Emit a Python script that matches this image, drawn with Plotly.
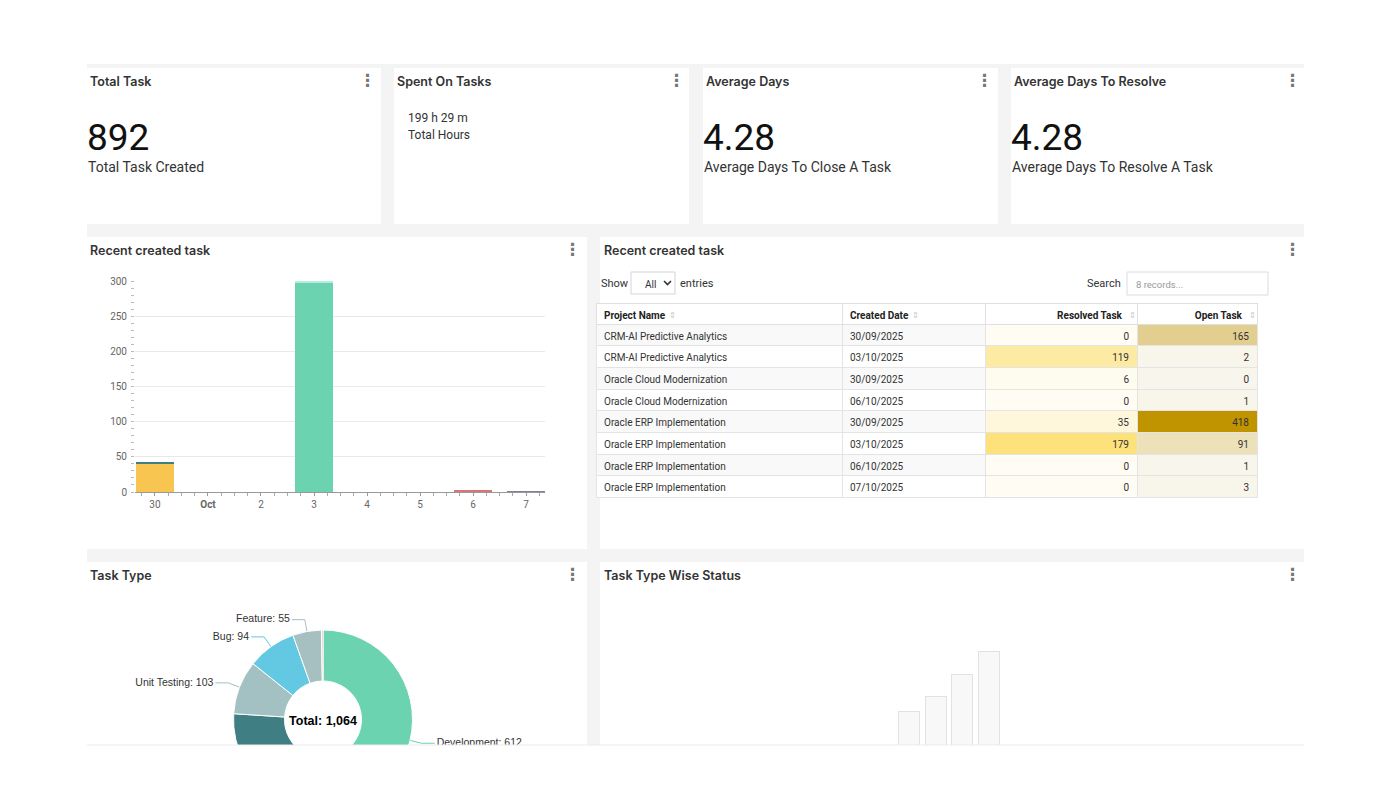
import math
import plotly.graph_objects as go

W, H = 1391, 809


def px(x):
    return x / W


def py(y):
    return 1 - y / H


# ---------------- data ----------------
kpi_titles = ["Total Task", "Spent On Tasks", "Average Days", "Average Days To Resolve"]
kpi_values = ["892", "199 h 29 m", "4.28", "4.28"]
kpi_captions = ["Total Task Created", "Total Hours", "Average Days To Close A Task",
                "Average Days To Resolve A Task"]

day_pos = [0, 1, 2, 3, 4, 5, 6, 7]
day_labels = ["30", "<b>Oct</b>", "2", "3", "4", "5", "6", "7"]
s_yellow = [40, 0, 0, 0, 0, 0, 0, 0]
s_olive = [1, 0, 0, 0, 0, 0, 0, 0]
s_darkteal = [2, 0, 0, 0, 0, 0, 0, 0]
s_green = [0, 0, 0, 298, 0, 0, 0, 0]
s_lightteal = [0, 0, 0, 2, 0, 0, 0, 0]
s_red = [0, 0, 0, 0, 0, 0, 2, 0]
s_grey = [0, 0, 0, 0, 0, 0, 0, 1]

table_projects = ["CRM-AI Predictive Analytics", "CRM-AI Predictive Analytics",
                  "Oracle Cloud Modernization", "Oracle Cloud Modernization",
                  "Oracle ERP Implementation", "Oracle ERP Implementation",
                  "Oracle ERP Implementation", "Oracle ERP Implementation"]
table_dates = ["30/09/2025", "03/10/2025", "30/09/2025", "06/10/2025",
               "30/09/2025", "03/10/2025", "06/10/2025", "07/10/2025"]
table_resolved = [0, 119, 6, 0, 35, 179, 0, 0]
table_open = [165, 2, 0, 1, 418, 91, 1, 3]
table_headers = ["Project Name", "Created Date", "Resolved Task", "Open Task"]

type_labels = ["Development", "Task", "Unit Testing", "Bug", "Feature", "Other"]
type_values = [612, 197, 103, 94, 55, 3]
type_colors = ["#6cd3b1", "#3f7f83", "#a3c1c2", "#63c8e1", "#a6bfc1", "#f3a6a6"]

skeleton_x = [0, 1, 2, 3]
skeleton_h = [79, 94, 116, 139]

# ---------------- figure ----------------
fig = go.Figure()

FONT = "Roboto"
TFONT = "Inter"
shapes = []
ann = []

# background and cards
shapes.append(dict(type="rect", xref="paper", yref="paper", x0=px(87), x1=px(1304),
                   y0=py(745), y1=py(64), fillcolor="#f4f4f4", line_width=0, layer="below"))
cards = [(87, 68, 381, 224), (394, 68, 689, 224), (703, 68, 998, 224), (1011, 68, 1304, 224),
         (87, 237, 587, 549), (600, 237, 1304, 549),
         (87, 562, 587, 760), (600, 562, 1304, 760)]
for (x0, y0, x1, y1) in cards:
    shapes.append(dict(type="rect", xref="paper", yref="paper", x0=px(x0), x1=px(x1),
                       y0=py(y1), y1=py(y0), fillcolor="white", line_width=0, layer="below"))


def text(x, y, s, size=12, color="#333", family=FONT, xanchor="left", weight=None):
    f = dict(size=size, color=color, family=family)
    if weight:
        f["weight"] = weight
    ann.append(dict(x=px(x), y=py(y), xref="paper", yref="paper", text=s, showarrow=False,
                    xanchor=xanchor, yanchor="middle", font=f))


def kebab(x, y):
    text(x, y, "⋮", size=17, color="#777", family="DejaVu Sans", xanchor="center", weight=700)


# KPI cards
kx = [87, 394, 703, 1011]
for i in range(4):
    text(kx[i] + 1, 81, kpi_titles[i], size=12.5, color="#333", family=TFONT, weight=600)
    kebab([367, 676, 984, 1292][i], 80)
for i in [0, 2, 3]:
    text(kx[i] - 2, 137, kpi_values[i], size=37, color="#111")
    text(kx[i] - 1, 167, kpi_captions[i], size=14, color="#333")
text(406, 118, kpi_values[1], size=12, color="#333")
text(406, 135, kpi_captions[1], size=12, color="#333")

# section titles
text(88, 250, "Recent created task", size=12.5, family=TFONT, weight=600)
kebab(572, 249)
text(602, 250, "Recent created task", size=12.5, family=TFONT, weight=600)
kebab(1292, 249)
text(88, 575, "Task Type", size=12.5, family=TFONT, weight=600)
kebab(572, 574)
text(602, 575, "Task Type Wise Status", size=12.5, family=TFONT, weight=600)
kebab(1292, 574)

# table controls
text(599, 283, "Show", size=11)
shapes.append(dict(type="rect", xref="paper", yref="paper", x0=px(631), x1=px(675),
                   y0=py(294), y1=py(272), line=dict(color="#d4d4d4", width=1), fillcolor="white"))
text(643, 284, "All", size=10)
shapes.append(dict(type="path", xref="paper", yref="paper",
                   path=f"M {px(664)} {py(281)} L {px(667.5)} {py(284.5)} L {px(671)} {py(281)}",
                   line=dict(color="#333", width=1.6)))
text(678, 283, "entries", size=11)
text(1123, 283, "Search", size=11, xanchor="right")
shapes.append(dict(type="rect", xref="paper", yref="paper", x0=px(1127), x1=px(1268),
                   y0=py(295), y1=py(272), line=dict(color="#dcdcdc", width=1), fillcolor="white"))
text(1134, 284, "8 records...", size=9.5, color="#999")

# ---------------- recent created task bar chart ----------------
series = [("Open", s_yellow, "#f8c550"), ("Reopened", s_olive, "#7fa58d"),
          ("On Hold", s_darkteal, "#3f7f83"), ("In Progress", s_green, "#6cd3b1"),
          ("Review", s_lightteal, "#b5ece4"), ("Blocked", s_red, "#d9757a"),
          ("Closed", s_grey, "#7d8296")]
for name, vals, col in series:
    fig.add_trace(go.Bar(x=day_pos, y=vals, name=name, marker=dict(color=col, line=dict(width=0)),
                         xaxis="x", yaxis="y", showlegend=False))

# ---------------- skeleton bars ----------------
fig.add_trace(go.Bar(x=skeleton_x, y=skeleton_h, width=0.79, xaxis="x2", yaxis="y2",
                     marker=dict(color="#f8f8f8", line=dict(color="#e2e2e2", width=1)),
                     showlegend=False, hoverinfo="skip"))

# ---------------- donut ----------------
pie_x0, pie_x1, pie_y0, pie_y1 = 233, 413, 630, 809
total = sum(type_values)
fig.add_trace(go.Pie(labels=type_labels, values=type_values, sort=False, direction="clockwise",
                     rotation=0, hole=0.43, textinfo="none",
                     marker=dict(colors=type_colors, line=dict(color="white", width=1)),
                     domain=dict(x=[px(pie_x0), px(pie_x1)], y=[py(pie_y1), py(pie_y0)]),
                     title=dict(text=f"<b>Total: {total:,}</b>", position="middle center",
                                font=dict(size=12.5, color="#000", family="Liberation Sans")),
                     showlegend=False))

cx = (pie_x0 + pie_x1) / 2
cy = (pie_y0 + pie_y1) / 2
rad = min(pie_x1 - pie_x0, pie_y1 - pie_y0) / 2
cum = 0
for lab, val, col in zip(type_labels, type_values, type_colors):
    if val / total >= 0.01:
        a = 2 * math.pi * (cum + val / 2) / total
        dx, dy = math.sin(a), -math.cos(a)
        ex, ey = cx + rad * dx, cy + rad * dy
        lx, ly = cx + (rad + 12) * dx, cy + (rad + 12) * dy
        side = 1 if dx > 0 else -1
        fig.add_trace(go.Scatter(x=[ex, lx, lx + side * 13], y=[ey, ly, ly], mode="lines",
                                 line=dict(color=col, width=1), xaxis="x3", yaxis="y3",
                                 showlegend=False, hoverinfo="skip"))
        fig.add_trace(go.Scatter(x=[lx + side * 15], y=[ly], mode="text",
                                 text=[f"{lab}: {val}"],
                                 textposition="middle right" if side > 0 else "middle left",
                                 textfont=dict(size=10.5, color="#333", family="Liberation Sans"),
                                 xaxis="x3", yaxis="y3", showlegend=False, hoverinfo="skip"))
    cum += val

# ---------------- table ----------------


def mix(c0, c1, t):
    a = [int(c0[i:i + 2], 16) for i in (1, 3, 5)]
    b = [int(c1[i:i + 2], 16) for i in (1, 3, 5)]
    return "#%02x%02x%02x" % tuple(round(a[k] + (b[k] - a[k]) * t) for k in range(3))


rmax, omax = max(table_resolved), max(table_open)
res_fill = [mix("#fefcf3", "#fde27c", v / rmax) for v in table_resolved]
open_fill = [mix("#f8f6ec", "#bf9400", v / omax) for v in table_open]
stripe = ["#f9f9f9" if i % 2 == 0 else "#ffffff" for i in range(len(table_projects))]
col_w = [242, 143, 152, 120]
hdr_text = table_headers[:2] + [h + "\u2002\u2009" for h in table_headers[2:]]
fig.add_trace(go.Table(
    domain=dict(x=[px(596), px(1257)], y=[py(549), py(303)]),
    columnwidth=[col_w[0] + 4] + col_w[1:],
    header=dict(values=hdr_text,
                align=["left", "left", "right", "right"], fill_color="white",
                line=dict(color="#e0e0e0", width=1), height=21,
                font=dict(family=FONT, size=10, color="#222", weight=700)),
    cells=dict(values=[table_projects, table_dates, table_resolved, table_open],
               align=["left", "left", "right", "right"],
               fill_color=[stripe, stripe, res_fill, open_fill],
               line=dict(color="#e4e4e4", width=1), height=21.7,
               font=dict(family=FONT, size=10, color="#333"))))

# sort icons in header (right of each header text)
for xi in [672, 915, 1132, 1252]:
    text(xi, 315, "⇕", size=8.5, color="#c9c9c9", family="DejaVu Sans", xanchor="center")

# mask for clipped bottom
shapes.append(dict(type="rect", xref="paper", yref="paper", x0=0, x1=1, y0=0, y1=py(745),
                   fillcolor="white", line_width=0, layer="above"))
shapes.append(dict(type="line", xref="paper", yref="paper", x0=px(87), x1=px(1304),
                   y0=py(745), y1=py(745), line=dict(color="#ebebeb", width=1), layer="above"))

fig.update_layout(
    width=W, height=H, autosize=False, margin=dict(l=0, r=0, t=0, b=0, pad=0),
    paper_bgcolor="white", plot_bgcolor="rgba(0,0,0,0)",
    barmode="stack", bargap=0.3,
    shapes=shapes, annotations=ann,
    xaxis=dict(domain=[px(135), px(545)], range=[-0.377, 7.358], tickmode="array",
               tickvals=day_pos, ticktext=day_labels, ticks="outside", ticklen=3,
               tickcolor="#999", showline=True, linecolor="#999", linewidth=1,
               showgrid=False, zeroline=False, fixedrange=True, automargin=False,
               tickfont=dict(size=10, color="#666", family=FONT),
               minor=dict(ticks="outside", ticklen=3, dtick=0.25, tick0=0, tickcolor="#aaa",
                          showgrid=False)),
    yaxis=dict(domain=[py(492), py(281)], range=[0, 300], dtick=50, gridcolor="#e9e9e9",
               showgrid=True, zeroline=False, ticks="outside", ticklen=3, tickcolor="#bbb",
               tickfont=dict(size=10, color="#666", family=FONT), fixedrange=True,
               automargin=False,
               minor=dict(ticks="outside", ticklen=3, dtick=10, tickcolor="#bbb", showgrid=False),
               ticklabelstandoff=2),
    xaxis2=dict(domain=[px(880), px(1020)], range=[-1.087, 4.162], visible=False,
                fixedrange=True, automargin=False),
    yaxis2=dict(domain=[py(790), py(640)], range=[0, 150], visible=False, fixedrange=True,
                automargin=False),
    xaxis3=dict(domain=[0, 1], range=[0, W], visible=False, fixedrange=True, automargin=False),
    yaxis3=dict(domain=[0, 1], range=[H, 0], visible=False, fixedrange=True, automargin=False),
)

fig.write_html("out.html")
